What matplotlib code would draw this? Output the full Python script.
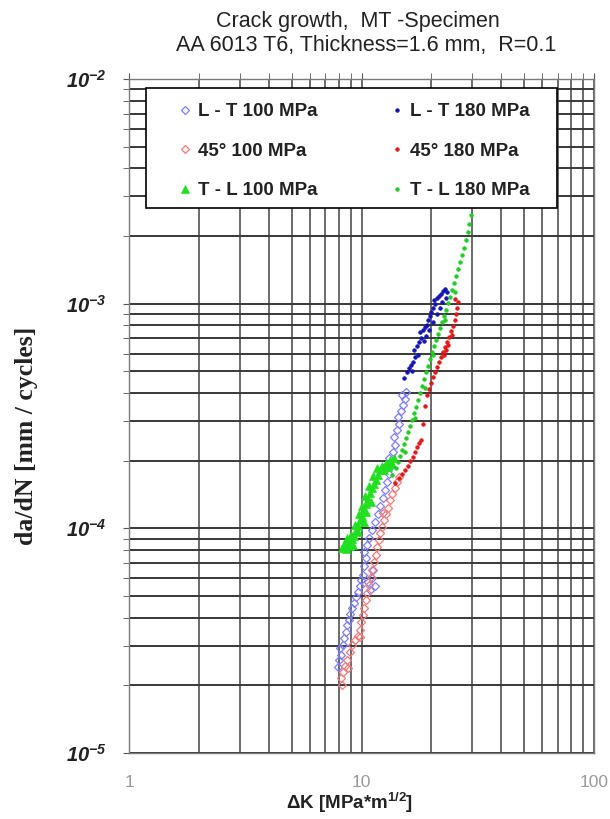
import numpy as np
import matplotlib
matplotlib.use("Agg")
import matplotlib.pyplot as plt
from matplotlib.lines import Line2D
from matplotlib.patches import Rectangle
from matplotlib.ticker import LogLocator, FuncFormatter, NullFormatter, FixedLocator

plt.rcParams['font.family'] = ['Liberation Sans', 'DejaVu Sans']
plt.rcParams['mathtext.fontset'] = 'custom'
plt.rcParams['mathtext.rm'] = 'Liberation Sans:italic:bold'
plt.rcParams['mathtext.it'] = 'Liberation Sans:italic:bold'
plt.rcParams['mathtext.bf'] = 'Liberation Sans:bold'

# ---------------- data ----------------
title_lines = ["Crack growth,  MT -Specimen", "AA 6013 T6, Thickness=1.6 mm,  R=0.1"]
x_label = r"ΔK [MPa*m$^{\mathbf{1/2}}$]"
y_label = "da/dN [mm / cycles]"
x_ticks = [1, 10, 100]
y_ticks = [1e-5, 1e-4, 1e-3, 1e-2]

series_labels = ["L - T 100 MPa", "L - T 180 MPa", "45° 100 MPa",
                 "45° 180 MPa", "T - L 100 MPa", "T - L 180 MPa"]

dk_lt100 = [7.92, 8.00, 8.16, 8.08, 8.32, 8.41, 8.58, 8.66, 8.84, 8.92, 9.10, 9.29,
            9.47, 9.66, 9.85, 9.95, 10.15, 11.10, 11.43, 10.88, 10.66, 11.21, 10.25,
            10.45, 10.25, 10.56, 10.77, 11.10, 11.43, 11.78, 12.01, 12.37, 12.62,
            12.87, 13.13, 13.39, 13.13, 13.66, 13.94, 13.80, 14.22, 14.50, 14.36,
            14.79, 15.09, 15.39, 14.94, 15.54]
dadn_lt100 = [2.42e-5, 2.60e-5, 2.74e-5, 2.94e-5, 3.03e-5, 3.25e-5, 3.46e-5, 3.71e-5,
              3.91e-5, 4.17e-5, 4.42e-5, 4.65e-5, 4.95e-5, 5.21e-5, 5.55e-5, 5.90e-5,
              6.20e-5, 6.02e-5, 5.55e-5, 5.32e-5, 5.78e-5, 6.53e-5, 6.81e-5, 7.39e-5,
              7.86e-5, 8.44e-5, 9.06e-5, 9.84e-5, 1.068e-4, 1.159e-4, 1.258e-4,
              1.366e-4, 1.483e-4, 1.610e-4, 1.747e-4, 1.896e-4, 2.058e-4, 2.189e-4,
              2.351e-4, 2.552e-4, 2.742e-4, 2.915e-4, 3.132e-4, 3.331e-4, 3.542e-4,
              3.766e-4, 3.924e-4, 4.046e-4]

dk_lt180 = [15.24, 15.70, 16.01, 16.33, 16.66, 16.99, 16.82, 17.33, 17.68, 18.03,
            17.85, 18.39, 18.76, 19.13, 19.32, 19.71, 19.91, 20.31, 20.71, 20.51,
            21.13, 21.54, 21.98, 22.42, 22.87, 23.32, 23.09, 22.19, 21.76, 21.13,
            20.31, 19.52, 18.95, 18.58, 17.50, 16.49]
dadn_lt180 = [4.670e-4, 4.967e-4, 5.174e-4, 5.336e-4, 5.503e-4, 5.792e-4, 6.223e-4,
              6.483e-4, 6.755e-4, 7.036e-4, 7.483e-4, 7.638e-4, 7.877e-4, 8.040e-4,
              8.463e-4, 8.816e-4, 9.186e-4, 9.571e-4, 9.972e-4, 1.039e-3, 1.060e-3,
              1.082e-3, 1.105e-3, 1.139e-3, 1.163e-3, 1.128e-3, 1.060e-3, 1.018e-3,
              9.571e-4, 9.000e-4, 8.291e-4, 7.638e-4, 7.182e-4, 6.825e-4, 5.912e-4,
              5.018e-4]

dk_45_100 = [8.24, 8.16, 8.32, 8.49, 8.66, 8.75, 8.92, 9.10, 9.38, 9.66, 9.85, 9.95,
             10.15, 10.25, 10.45, 10.56, 10.77, 10.99, 11.10, 11.32, 11.54, 11.66,
             11.89, 12.01, 12.25, 12.50, 12.75, 13.00, 13.26, 13.53, 13.94, 14.22,
             14.50, 9.85, 12.37]
dadn_45_100 = [2.01e-5, 2.16e-5, 2.29e-5, 2.44e-5, 2.60e-5, 2.40e-5, 2.82e-5, 3.03e-5,
               3.19e-5, 3.32e-5, 3.53e-5, 3.83e-5, 4.12e-5, 4.42e-5, 4.80e-5, 5.16e-5,
               5.61e-5, 6.08e-5, 6.53e-5, 7.09e-5, 7.62e-5, 8.26e-5, 8.88e-5, 9.54e-5,
               1.014e-4, 1.090e-4, 1.159e-4, 1.233e-4, 1.338e-4, 1.423e-4, 1.514e-4,
               1.610e-4, 1.694e-4, 3.29e-5, 1.171e-4]

dk_45_180 = [13.94, 14.50, 14.94, 15.39, 15.85, 16.17, 16.66, 16.99, 17.33, 17.68,
             18.03, 18.39, 18.76, 19.13, 19.52, 19.91, 20.31, 20.71, 21.13, 21.54,
             21.98, 22.42, 22.87, 23.32, 23.79, 24.27, 24.75, 25.25, 25.50, 25.76,
             26.01, 25.25, 24.51, 23.55, 22.64, 23.09]
dadn_45_180 = [1.593e-4, 1.677e-4, 1.747e-4, 1.820e-4, 1.896e-4, 1.995e-4, 2.079e-4,
               2.189e-4, 2.304e-4, 2.400e-4, 2.475e-4, 2.915e-4, 3.505e-4, 3.924e-4,
               4.173e-4, 4.438e-4, 4.719e-4, 4.967e-4, 5.228e-4, 5.503e-4, 5.792e-4,
               6.097e-4, 6.417e-4, 6.755e-4, 7.109e-4, 7.560e-4, 7.958e-4, 8.463e-4,
               8.999e-4, 9.571e-4, 1.018e-3, 1.049e-3, 7.256e-4, 6.550e-4, 5.912e-4,
               6.223e-4]

dk_tl100 = [8.24, 8.41, 8.58, 8.75, 8.92, 9.10, 9.01, 9.29, 9.47, 9.38, 9.66, 9.85,
            9.75, 10.05, 10.25, 10.05, 10.45, 10.66, 10.35, 10.88, 11.10, 10.77, 11.32,
            11.54, 11.21, 11.78, 12.01, 11.66, 12.25, 12.50, 12.75, 13.00, 13.26, 13.53,
            13.80, 9.66, 8.66, 9.19, 10.45, 10.99, 10.25]
dadn_tl100 = [8.18e-5, 8.52e-5, 8.10e-5, 8.70e-5, 8.35e-5, 8.97e-5, 9.35e-5, 9.25e-5,
              9.84e-5, 1.036e-4, 1.025e-4, 1.090e-4, 1.159e-4, 1.136e-4, 1.208e-4,
              1.258e-4, 1.284e-4, 1.352e-4, 1.394e-4, 1.438e-4, 1.514e-4, 1.545e-4,
              1.577e-4, 1.643e-4, 1.711e-4, 1.729e-4, 1.820e-4, 1.857e-4, 1.896e-4,
              1.820e-4, 1.955e-4, 1.876e-4, 2.016e-4, 1.935e-4, 2.058e-4, 9.64e-5,
              9.06e-5, 8.44e-5, 1.183e-4, 1.311e-4, 1.068e-4]

dk_tl180 = [14.36, 14.64, 14.94, 15.24, 15.54, 15.85, 16.17, 16.49, 16.82, 17.16,
            17.50, 17.85, 18.21, 18.58, 18.95, 19.32, 19.71, 20.11, 20.51, 20.92,
            21.33, 21.76, 22.19, 22.64, 23.09, 23.55, 24.03, 24.51, 25.00, 25.50,
            26.01, 26.53, 27.07, 27.61, 28.16, 28.72, 29.01, 29.59, 20.31, 18.76,
            16.99, 22.87, 25.25, 15.39, 14.08, 13.53]
dadn_tl180 = [1.975e-4, 2.101e-4, 2.234e-4, 2.376e-4, 2.526e-4, 2.686e-4, 2.856e-4,
              3.037e-4, 3.263e-4, 3.470e-4, 3.728e-4, 4.005e-4, 4.304e-4, 4.623e-4,
              4.967e-4, 5.282e-4, 5.674e-4, 6.097e-4, 6.483e-4, 6.895e-4, 7.331e-4,
              7.796e-4, 8.291e-4, 8.816e-4, 9.376e-4, 1.008e-3, 1.071e-3, 1.151e-3,
              1.236e-3, 1.329e-3, 1.427e-3, 1.533e-3, 1.647e-3, 1.770e-3, 1.921e-3,
              2.085e-3, 2.263e-3, 2.481e-3, 5.912e-4, 4.216e-4, 3.100e-4, 8.463e-4,
              1.128e-3, 2.189e-4, 1.857e-4, 1.729e-4]

# ---------------- styles ----------------
styles = {
    "L - T 100 MPa": dict(marker='D', mfc='none', mec='#7d7dff', ms=4.2, mew=0.9),
    "45° 100 MPa":   dict(marker='D', mfc='none', mec='#f07a7a', ms=4.2, mew=0.9),
    "T - L 100 MPa": dict(marker='^', mfc='#20e020', mec='#20e020', ms=5.5, mew=0.5),
    "L - T 180 MPa": dict(marker='o', mfc='#1414b4', mec='#1414b4', ms=2.6, mew=0.5),
    "45° 180 MPa":   dict(marker='o', mfc='#e01818', mec='#e01818', ms=2.6, mew=0.5),
    "T - L 180 MPa": dict(marker='o', mfc='#22cc22', mec='#22cc22', ms=2.6, mew=0.5),
}
data = {
    "L - T 100 MPa": (dk_lt100, dadn_lt100),
    "45° 100 MPa": (dk_45_100, dadn_45_100),
    "T - L 100 MPa": (dk_tl100, dadn_tl100),
    "L - T 180 MPa": (dk_lt180, dadn_lt180),
    "45° 180 MPa": (dk_45_180, dadn_45_180),
    "T - L 180 MPa": (dk_tl180, dadn_tl180),
}

W, H = 610, 819
fig = plt.figure(figsize=(W / 100, H / 100), dpi=100)
L, R, T, B = 129, 594, 79, 753
ax = fig.add_axes([L / W, 1 - B / H, (R - L) / W, (B - T) / H])
ax.set_xscale('log')
ax.set_yscale('log')
ax.set_xlim(1, 100)
ax.set_ylim(1e-5, 1e-2)

for name in data:
    xs, ys = data[name]
    ax.plot(xs, ys, ls='none', **styles[name], zorder=3)

# ticks and grid
ax.xaxis.set_major_locator(FixedLocator(x_ticks))
ax.yaxis.set_major_locator(FixedLocator(y_ticks))
ax.xaxis.set_minor_locator(LogLocator(base=10, subs=np.arange(2, 10)))
ax.yaxis.set_minor_locator(LogLocator(base=10, subs=np.arange(2, 10)))
ax.xaxis.set_minor_formatter(NullFormatter())
ax.yaxis.set_minor_formatter(NullFormatter())
ax.xaxis.set_major_formatter(FuncFormatter(lambda v, p: "%d" % v))
ax.yaxis.set_major_formatter(
    FuncFormatter(lambda v, p: r"$10^{%d}$" % int(round(np.log10(v)))))

ax.grid(True, which='both', axis='x', color='#6a6a6a', lw=1.4)
ax.grid(True, which='both', axis='y', color='#383838', lw=1.4)

ax.tick_params(axis='x', which='both', bottom=False, top=True, direction='out',
               length=4, color='#555555', labelsize=12.5, labelcolor='#9a9a9a', pad=12)
ax.tick_params(axis='y', which='both', left=True, right=False, direction='out',
               length=4, color='#555555', labelsize=14.5, labelcolor='#222222', pad=12)
for s in ax.spines.values():
    s.set_color('#7a7a7a')
    s.set_linewidth(1.0)

# labels
ax.set_xlabel(x_label, fontsize=13.5, fontweight='bold', color='#222222')
ax.xaxis.label.set_va('center')
ax.xaxis.set_label_coords((350 - L) / (R - L), (B - 803) / (B - T))
ax.set_ylabel(y_label, fontsize=18.5, fontweight='bold', color='#222222',
              family=['Liberation Serif', 'DejaVu Serif'])
ax.yaxis.label.set_va('center')
ax.yaxis.set_label_coords((27 - L) / (R - L), (B - 436) / (B - T))

# title
fig.text(358 / W, 1 - 21 / H, title_lines[0], ha='center', va='center',
         fontsize=15.5, color='#222222')
fig.text(366 / W, 1 - 46 / H, title_lines[1], ha='center', va='center',
         fontsize=15.5, color='#222222')

# legend frame
bx0, bx1, by0, by1 = 146, 557, 88, 208
ax.add_patch(Rectangle(((bx0 - L) / (R - L), (B - by1) / (B - T)),
                       (bx1 - bx0) / (R - L), (by1 - by0) / (B - T),
                       transform=ax.transAxes, facecolor='white', edgecolor='black',
                       lw=1.2, zorder=4))

def handle(name):
    return Line2D([], [], ls='none', **styles[name])

col1 = ["L - T 100 MPa", "45° 100 MPa", "T - L 100 MPa"]
col2 = ["L - T 180 MPa", "45° 180 MPa", "T - L 180 MPa"]
fsz = 13.5
fs_px = fsz * 100 / 72
leg_kw = dict(frameon=False, loc='upper left', borderpad=0, borderaxespad=0,
              handlelength=0.6, handletextpad=0.4, labelspacing=1.2,
              prop=dict(weight='bold', size=fsz), numpoints=1)
top_y = (B - (109 - 6)) / (B - T)
leg1 = ax.legend([handle(n) for n in col1], col1,
                 bbox_to_anchor=((185 - 0.3 * fs_px - L) / (R - L), top_y), **leg_kw)
for t in leg1.get_texts():
    t.set_color('#222222')
ax.add_artist(leg1)
leg2 = ax.legend([handle(n) for n in col2], col2,
                 bbox_to_anchor=((397 - 0.3 * fs_px - L) / (R - L), top_y), **leg_kw)
for t in leg2.get_texts():
    t.set_color('#222222')

fig.savefig("out.png", dpi=100)
